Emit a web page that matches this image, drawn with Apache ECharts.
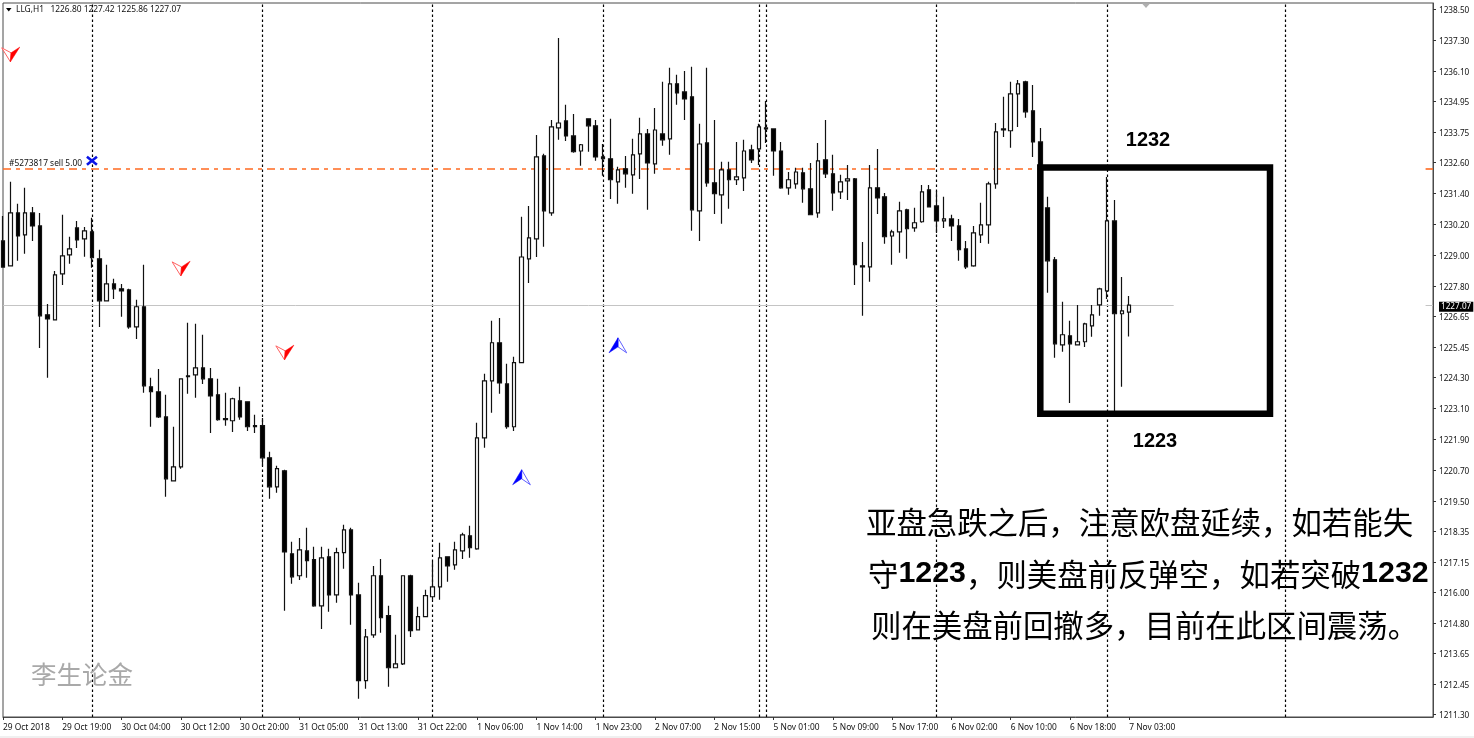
<!DOCTYPE html>
<html><head><meta charset="utf-8">
<style>html,body{margin:0;padding:0;background:#fff}#c{width:1474px;height:738px}</style>
<script src="https://cdn.jsdelivr.net/npm/echarts@6/dist/echarts.min.js"></script>
</head><body><div id="c"></div>
<script>
const opens=[1229.55,1228.59,1230.63,1229.78,1230.63,1230.13,1226.70,1226.50,1228.28,1229.01,
1230.05,1229.63,1229.90,1228.86,1227.24,1227.89,1227.70,1227.66,1226.23,1227.01,
1223.92,1223.73,1222.76,1220.29,1220.83,1224.34,1224.38,1224.65,1224.23,1223.61,
1222.69,1222.61,1223.38,1223.34,1222.42,1222.42,1221.18,1220.06,1220.68,1217.48,
1216.63,1217.59,1217.25,1215.47,1217.36,1215.89,1217.52,1218.40,1215.89,1212.58,
1214.35,1216.63,1215.09,1213.08,1213.23,1216.63,1214.54,1215.05,1215.82,1216.20,
1217.36,1217.05,1217.59,1218.17,1217.67,1221.95,1224.15,1225.62,1224.03,1222.38,
1224.85,1228.86,1229.63,1232.83,1230.63,1233.91,1234.18,1233.60,1233.02,1234.26,
1233.99,1232.79,1232.72,1231.83,1232.33,1232.10,1232.91,1233.68,1232.52,1233.68,
1233.49,1235.61,1235.30,1235.11,1230.71,1233.33,1231.79,1231.33,1232.29,1231.91,
1231.98,1233.06,1233.10,1233.91,1233.87,1233.02,1231.60,1231.75,1232.18,1231.56,
1230.63,1232.68,1232.14,1231.44,1231.87,1231.94,1228.59,1228.55,1231.60,1231.25,
1229.74,1229.90,1230.75,1230.05,1230.29,1231.52,1230.90,1230.32,1230.40,1230.13,
1229.24,1228.59,1229.78,1230.17,1231.75,1233.87,1233.80,1235.22,1235.69,1234.57,
1233.37,1230.83,1228.82,1225.54,1225.89,1225.54,1225.66,1226.27,1227.08,1227.62,
1230.32,1226.74,1226.80];
const highs=[1230.51,1231.83,1230.98,1231.60,1230.86,1230.63,1227.12,1228.39,1230.56,1229.71,
1230.32,1230.09,1230.44,1229.21,1228.63,1228.09,1227.89,1227.70,1227.28,1228.63,
1224.27,1224.61,1223.61,1222.38,1224.23,1226.39,1226.35,1225.93,1224.65,1224.23,
1223.69,1223.50,1223.92,1223.34,1222.84,1222.72,1221.41,1220.87,1220.72,1217.94,
1218.09,1218.48,1217.75,1217.75,1217.67,1217.71,1218.60,1218.48,1216.36,1214.58,
1217.01,1217.28,1215.47,1214.35,1216.63,1216.67,1215.43,1216.09,1217.17,1217.90,
1217.36,1217.94,1218.29,1218.56,1222.53,1224.42,1226.47,1226.58,1224.81,1225.08,
1230.48,1230.90,1233.64,1232.91,1234.22,1237.38,1234.80,1234.45,1233.29,1234.26,
1234.22,1233.29,1234.26,1232.41,1232.83,1233.49,1234.30,1233.87,1234.68,1235.69,
1236.23,1235.96,1236.11,1236.27,1234.07,1236.23,1234.22,1232.60,1232.60,1233.37,
1233.45,1233.26,1234.07,1234.95,1233.87,1233.37,1232.21,1232.37,1232.37,1232.56,
1233.33,1234.22,1232.87,1232.10,1232.48,1231.98,1229.51,1232.48,1233.10,1231.40,
1229.98,1231.06,1230.79,1230.83,1231.71,1231.71,1231.48,1231.25,1230.56,1230.40,
1229.55,1230.13,1231.02,1231.83,1234.10,1235.11,1235.69,1235.76,1235.73,1235.57,
1233.91,1231.25,1228.93,1227.20,1226.47,1227.08,1226.39,1227.08,1227.74,1232.02,
1231.13,1228.16,1227.42];
const lows=[1228.51,1228.59,1228.78,1229.05,1229.55,1225.42,1224.27,1226.50,1227.85,1228.67,
1229.28,1228.94,1228.51,1226.23,1227.24,1227.31,1226.62,1226.16,1225.77,1223.69,
1222.38,1222.72,1219.68,1220.29,1220.76,1223.65,1223.50,1224.03,1222.14,1222.61,
1222.42,1222.18,1222.65,1222.22,1222.14,1220.87,1219.60,1219.83,1215.28,1216.32,
1216.47,1216.55,1215.43,1214.58,1215.24,1215.59,1216.90,1214.74,1211.88,1212.27,
1214.24,1214.43,1212.35,1213.08,1213.19,1214.27,1214.54,1215.05,1215.70,1215.70,
1216.40,1216.86,1217.28,1217.32,1217.63,1221.57,1222.92,1223.65,1222.30,1222.22,
1224.85,1227.93,1228.93,1229.32,1230.52,1233.45,1233.41,1232.95,1232.45,1232.99,
1232.64,1232.06,1231.17,1230.98,1231.60,1231.37,1231.94,1230.75,1232.14,1233.22,
1232.87,1234.80,1234.22,1229.94,1229.55,1231.64,1230.59,1230.21,1230.79,1231.71,
1231.48,1232.56,1232.48,1233.33,1232.06,1231.56,1231.33,1231.56,1231.02,1230.56,
1230.44,1231.98,1230.71,1231.17,1231.13,1227.85,1226.66,1227.97,1230.59,1229.44,
1228.63,1229.09,1228.86,1229.90,1230.25,1230.86,1229.86,1230.05,1229.55,1228.78,
1228.47,1228.55,1229.47,1229.44,1231.56,1233.56,1233.14,1233.95,1234.30,1232.79,
1230.56,1227.55,1225.04,1225.27,1223.30,1225.54,1225.46,1225.85,1226.66,1227.31,
1222.95,1223.92,1225.86];
const closes=[1228.54,1230.63,1229.74,1230.63,1230.13,1226.66,1226.54,1228.24,1228.97,1229.24,
1229.59,1229.94,1228.90,1227.24,1227.89,1227.70,1227.62,1226.23,1227.01,1223.96,
1223.73,1222.76,1220.37,1220.83,1224.23,1224.31,1224.65,1224.23,1223.57,1222.65,
1222.65,1223.46,1222.76,1222.38,1222.38,1221.18,1220.06,1220.76,1217.55,1216.59,
1217.63,1217.21,1215.47,1217.32,1215.89,1217.52,1218.40,1215.89,1212.58,1214.27,
1216.63,1215.01,1213.08,1213.23,1216.63,1214.51,1215.05,1215.86,1216.20,1217.32,
1217.01,1217.63,1218.21,1217.71,1221.95,1224.15,1225.62,1224.07,1222.38,1224.85,
1228.93,1229.67,1232.79,1230.71,1233.95,1234.10,1233.60,1232.99,1233.26,1233.99,
1232.79,1232.72,1231.91,1232.29,1232.14,1232.87,1233.68,1232.56,1233.83,1233.45,
1235.61,1235.26,1235.03,1230.75,1233.29,1231.79,1231.37,1232.29,1231.91,1232.02,
1233.02,1232.68,1233.95,1233.87,1233.02,1231.60,1231.91,1232.21,1231.56,1230.56,
1232.64,1232.14,1231.40,1231.83,1231.94,1228.63,1228.55,1231.60,1231.21,1229.71,
1229.90,1230.71,1230.02,1230.25,1231.44,1230.86,1230.32,1230.40,1230.13,1229.21,
1228.55,1229.86,1230.17,1231.75,1233.76,1233.83,1235.22,1235.61,1234.53,1233.37,
1230.75,1228.78,1225.58,1225.93,1225.58,1225.66,1226.35,1226.70,1227.70,1230.32,
1226.74,1226.85,1227.07];
const timeTicks=['29 Oct 2018','29 Oct 19:00','30 Oct 04:00','30 Oct 12:00','30 Oct 20:00','31 Oct 05:00','31 Oct 13:00','31 Oct 22:00','1 Nov 06:00','1 Nov 14:00','1 Nov 23:00','2 Nov 07:00','2 Nov 15:00','5 Nov 01:00','5 Nov 09:00','5 Nov 17:00','6 Nov 02:00','6 Nov 10:00','6 Nov 18:00','7 Nov 03:00'];
const priceTicks=[1238.50,1237.30,1236.10,1234.95,1233.75,1232.60,1231.40,1230.20,1229.00,1227.80,1226.65,1225.45,1224.30,1223.10,1221.90,1220.70,1219.50,1218.35,1217.15,1216.00,1214.80,1213.65,1212.45,1211.30];
const separators=[12,35,58,81,102,103,126,149,173];
const orderPrice=1232.33;
const lastPrice=1227.07;
const sellArrows=[[1,1236.46],[24,1228.20],[38,1224.96]];
const buyArrows=[[70,1220.72],[83,1225.81]];
const orderMark=[[12,1232.64]];
const rangeBox=[[140,1232.38,171,1222.88]];

const slotCount=194, tickEvery=8;
const categories=Array.from({length:slotCount},(_,i)=>(i%tickEvery===0&&timeTicks[i/tickEvery])||'');
const isTick=i=>i%tickEvery===0&&i/tickEvery<timeTicks.length;
const candles=opens.map((o,i)=>[o,closes[i],lows[i],highs[i]]);
const last=opens.length-1;
const font='"Noto Sans"';
const cjk='"Noto Sans CJK SC"';
const bold='"Liberation Sans"';

function rArrow(params,api){
  const p=api.coord([api.value(0),api.value(1)]);
  const c='#ff0000';
  return {type:'group',children:[
    {type:'polygon',shape:{points:[[p[0]-8.7,p[1]-14],[p[0]+0.7,p[1]-9],[p[0],p[1]]]},style:{fill:'#fff',stroke:'#ff6060',lineWidth:1}},
    {type:'polygon',shape:{points:[[p[0]+9.3,p[1]-14.7],[p[0]+0.7,p[1]-9],[p[0],p[1]]]},style:{fill:c,stroke:c,lineWidth:0.5}}
  ]};
}
function bArrow(params,api){
  const p=api.coord([api.value(0),api.value(1)]);
  const c='#0000ff';
  return {type:'group',children:[
    {type:'polygon',shape:{points:[[p[0]+8.7,p[1]+15],[p[0],p[1]+9],[p[0],p[1]]]},style:{fill:'#fff',stroke:'#6060ff',lineWidth:1}},
    {type:'polygon',shape:{points:[[p[0]-9,p[1]+15],[p[0],p[1]+9],[p[0],p[1]]]},style:{fill:c,stroke:c,lineWidth:0.5}}
  ]};
}
function xMark(params,api){
  const p=api.coord([api.value(0),api.value(1)]);
  const s={stroke:'#0a14e6',lineWidth:2.6,lineCap:'butt'};
  return {type:'group',children:[
    {type:'line',shape:{x1:p[0]-5,y1:p[1]-4,x2:p[0]+5,y2:p[1]+4},style:s},
    {type:'line',shape:{x1:p[0]-5,y1:p[1]+4,x2:p[0]+5,y2:p[1]-4},style:s}
  ]};
}
function boxItem(params,api){
  const a=api.coord([api.value(0),api.value(1)]);
  const b=api.coord([api.value(2),api.value(3)]);
  return {type:'rect',shape:{x:a[0],y:a[1],width:b[0]-a[0],height:b[1]-a[1]},style:{fill:'none',stroke:'#000',lineWidth:6.5}};
}
const yTop=1238.73, yBottom=1211.18;

const option={
  animation:false,
  backgroundColor:'#fff',
  grid:{left:3,right:41,top:3,bottom:21,show:true,borderColor:'#4a4a4a',borderWidth:1,backgroundColor:'#fff',containLabel:false,outerBoundsMode:'none'},
  tooltip:{show:false},
  xAxis:{type:'category',data:categories,boundaryGap:false,
    axisLine:{show:true,onZero:false,lineStyle:{color:'#4a4a4a'}},
    axisTick:{show:true,length:3,interval:isTick,lineStyle:{color:'#333'}},
    axisLabel:{show:true,interval:isTick,align:'left',margin:7,fontFamily:font,fontSize:8.4,color:'#111'},
    splitLine:{show:false}},
  yAxis:{type:'value',position:'right',min:yBottom,max:yTop,
    axisLine:{show:true,lineStyle:{color:'#4a4a4a'}},
    axisTick:{show:true,length:3,customValues:priceTicks,lineStyle:{color:'#333'}},
    axisLabel:{show:true,margin:6,fontFamily:font,fontSize:8.2,color:'#111',padding:[3,0,0,0],
      customValues:priceTicks.concat([lastPrice]),
      formatter:v=>Math.abs(v-lastPrice)<0.001?'{cur|'+v.toFixed(2)+'}':v.toFixed(2),
      rich:{cur:{backgroundColor:'#000',color:'#fff',fontFamily:font,fontSize:8.2,padding:[1,2,1,2]}}},
    splitLine:{show:false}},
  series:[
    {type:'candlestick',name:'LLG,H1',data:candles,barWidth:4,z:3,
      itemStyle:{color:'#fff',color0:'#000',borderColor:'#111',borderColor0:'#111',borderWidth:1.2},
      markLine:{silent:true,symbol:'none',z:1,animation:false,label:{show:false},
        data:separators.map(i=>({xAxis:i,lineStyle:{color:'#000',type:[2.5,2.5],width:1.2}})).concat([
          [{coord:[0,orderPrice],lineStyle:{color:'#ff6a20',type:[8,5,4,5],width:1.6}},{coord:[140,orderPrice]}],
          [{coord:[192,orderPrice],lineStyle:{color:'#ff6a20',type:'solid',width:1.6}},{coord:[193,orderPrice]}],
          [{coord:[0,lastPrice],lineStyle:{color:'#c4c4c4',type:'solid',width:1}},{coord:[158,lastPrice]}],
          [{coord:[192,lastPrice],lineStyle:{color:'#c4c4c4',type:'solid',width:1}},{coord:[193,lastPrice]}]
        ])}},
    {type:'custom',name:'range',data:rangeBox,renderItem:boxItem,encode:{x:[0,2],y:[1,3]},z:5,silent:true},
    {type:'custom',name:'sell',data:sellArrows,renderItem:rArrow,encode:{x:0,y:1},z:6,silent:true},
    {type:'custom',name:'buy',data:buyArrows,renderItem:bArrow,encode:{x:0,y:1},z:6,silent:true},
    {type:'custom',name:'order',data:orderMark,renderItem:xMark,encode:{x:0,y:1},z:6,silent:true}
  ],
  graphic:[
    {type:'rect',shape:{x:0,y:736,width:1474,height:2},style:{fill:'#f0f0f0'},z:1},
    {type:'polygon',shape:{points:[[6,8],[11.5,8],[8.75,11.5]]},style:{fill:'#000'},z:20},
    {type:'text',x:16,y:10,style:{text:'LLG,H1   '+[opens[last],highs[last],lows[last],closes[last]].map(v=>v.toFixed(2)).join(' '),font:'8.4px '+font,fill:'#111',verticalAlign:'middle'},z:20},
    {type:'text',x:9,y:163.5,style:{text:'#5273817 sell 5.00',font:'8.4px '+font,fill:'#111',verticalAlign:'middle'},z:20},
    {type:'polygon',shape:{points:[[1142,3.5],[1150,3.5],[1146,8]]},style:{fill:'#b0b0b0'},z:20},
    {type:'text',x:1148,y:140,style:{text:'1232',font:'bold 20px '+bold,fill:'#000',align:'center',verticalAlign:'middle'},z:20},
    {type:'text',x:1155,y:441,style:{text:'1223',font:'bold 20px '+bold,fill:'#000',align:'center',verticalAlign:'middle'},z:20},
    {type:'text',x:31,y:674,style:{text:'李生论金',font:'25.5px '+cjk,fill:'#a9a9a9',verticalAlign:'middle'},z:20},
    {type:'text',x:866,y:522,style:{text:'亚盘急跌之后，注意欧盘延续，如若能失',font:'30.4px '+cjk,fill:'#000',verticalAlign:'middle'},z:20},
    {type:'text',x:868,y:574,style:{text:'{a|守}{b|1223}{a|，则美盘前反弹空，如若突破}{b|1232}',verticalAlign:'middle',
      rich:{a:{font:'30.4px '+cjk,fill:'#000'},b:{font:'bold 30.4px '+bold,fill:'#000'}}},z:20},
    {type:'text',x:871,y:625,style:{text:'则在美盘前回撤多，目前在此区间震荡。',font:'30.4px '+cjk,fill:'#000',verticalAlign:'middle'},z:20}
  ]
};
const chart=echarts.init(document.getElementById('c'),null,{renderer:'canvas'});
chart.setOption(option);
</script></body></html>
